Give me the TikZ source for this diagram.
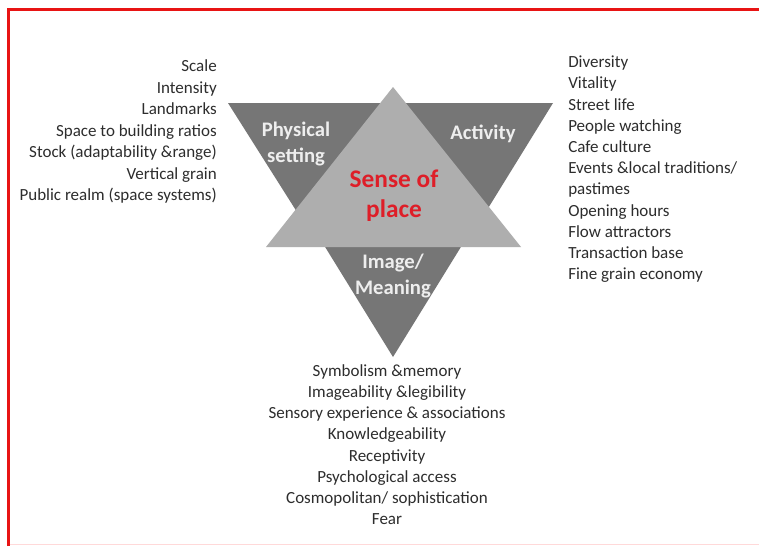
\documentclass[tikz,border=0pt]{standalone}
\usepackage{fontspec}
\setmainfont{Carlito}
\definecolor{darktri}{RGB}{118,118,118}
\definecolor{lighttri}{RGB}{174,174,174}
\definecolor{txt}{RGB}{45,45,45}
\definecolor{framered}{RGB}{232,20,20}
\definecolor{senseRed}{RGB}{222,30,40}
\definecolor{lbl}{RGB}{238,238,238}
\begin{document}
\begin{tikzpicture}[x=0.75pt,y=-0.75pt,
  listitem/.style={inner sep=0pt, text=txt, font=\fontsize{12.75}{15}\selectfont},
  leftitem/.style={listitem, anchor=mid east},
  rightitem/.style={listitem, anchor=mid west},
  bottomitem/.style={listitem, anchor=mid},
  trilabel/.style={align=center, text=lbl, inner sep=0pt, font=\bfseries\fontsize{15.5}{20}\selectfont},
  centrelabel/.style={align=center, text=senseRed, inner sep=0pt, font=\bfseries\fontsize{19}{22.5}\selectfont}]
\useasboundingbox (0,0) rectangle (759,546);
\fill[white] (0,0) rectangle (759,546);
% frame
\draw[framered, line width=2.3pt] (8.5,546) -- (8.5,9.5) -- (759,9.5);
\draw[red!15, line width=1pt] (10,544.5) -- (759,544.5);
% triangles
\fill[darktri] (228,103) -- (390,103) -- (309,231) -- cycle;
\fill[darktri] (396,103) -- (553,103) -- (474,231) -- cycle;
\fill[darktri] (314,229) -- (472,229) -- (393,357) -- cycle;
\fill[lighttri] (393,87) -- (521,247) -- (266,247) -- cycle;
% labels
\node[trilabel] (phys) at (296,144) {Physical\\setting};
\node[trilabel] (act) at (483,134) {Activity};
\node[trilabel] (img) at (393,276) {Image/\\Meaning};
\node[centrelabel] (sense) at (394,196) {Sense of\\place};
% left list
\foreach \t [count=\i from 0] in {Scale,Intensity,Landmarks,Space to building ratios,Stock (adaptability \&range),Vertical grain,Public realm (space systems)}
  \node[leftitem] (l\i) at (217,{68.5+21.5*\i}) {\t};
% right list
\foreach \t [count=\i from 0] in {Diversity,Vitality,Street life,People watching,Cafe culture,Events \&local traditions/,pastimes,Opening hours,Flow attractors,Transaction base,Fine grain economy}
  \node[rightitem] (r\i) at (568,{64.5+21.2*\i}) {\t};
% bottom list
\foreach \t [count=\i from 0] in {Symbolism \&memory,Imageability \&legibility,Sensory experience \& associations,Knowledgeability,Receptivity,Psychological access,Cosmopolitan/ sophistication,Fear}
  \node[bottomitem] (b\i) at (387,{373.5+21.1*\i}) {\t};
\end{tikzpicture}
\end{document}
